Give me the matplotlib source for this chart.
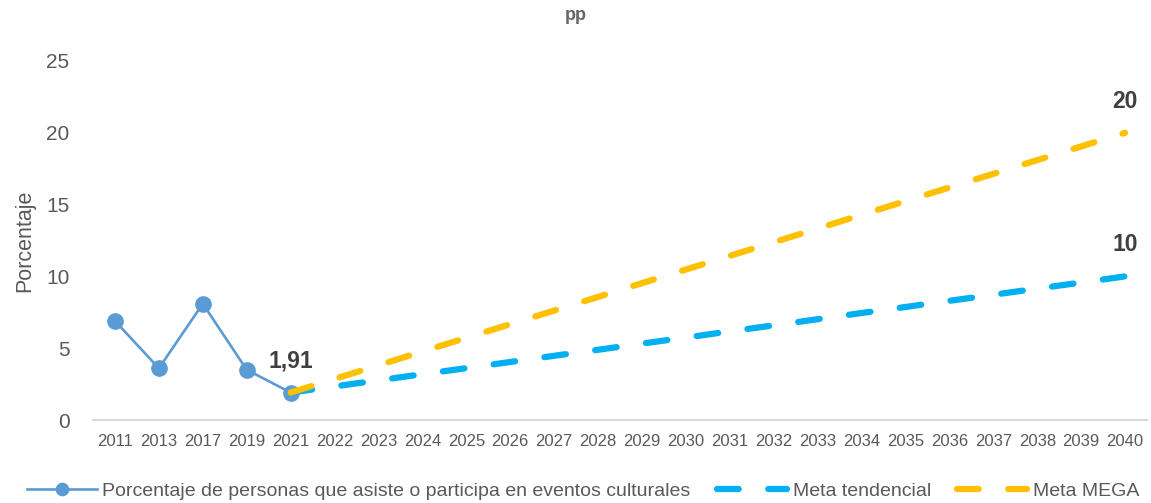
import matplotlib
matplotlib.use("Agg")
import matplotlib.pyplot as plt
import numpy as np

plt.rcParams['font.family'] = ['Liberation Sans', 'DejaVu Sans']

years = ["2011", "2013", "2017", "2019", "2021", "2022", "2023", "2024", "2025", "2026",
         "2027", "2028", "2029", "2030", "2031", "2032", "2033", "2034", "2035", "2036",
         "2037", "2038", "2039", "2040"]

obs_years = ["2011", "2013", "2017", "2019", "2021"]
obs_values = [6.9, 3.6, 8.1, 3.5, 1.91]

goal_years = ["2021", "2022", "2023", "2024", "2025", "2026", "2027", "2028", "2029", "2030",
              "2031", "2032", "2033", "2034", "2035", "2036", "2037", "2038", "2039", "2040"]
tend_values = [1.91, 2.34, 2.76, 3.19, 3.61, 4.04, 4.47, 4.89, 5.32, 5.74,
               6.17, 6.59, 7.02, 7.45, 7.87, 8.30, 8.72, 9.15, 9.57, 10.0]
mega_values = [1.91, 2.86, 3.81, 4.77, 5.72, 6.67, 7.62, 8.57, 9.53, 10.48,
               11.43, 12.38, 13.33, 14.29, 15.24, 16.19, 17.14, 18.10, 19.05, 20.0]

label_obs = "Porcentaje de personas que asiste o participa en eventos culturales"
label_tend = "Meta tendencial"
label_mega = "Meta MEGA"

TXT = "#595959"
C_OBS = "#5B9BD5"
C_TEND = "#00B0F0"
C_MEGA = "#FFC000"

fig = plt.figure(figsize=(11.51, 5.03), dpi=100)
ax = fig.add_axes([93/1151, 1 - 420/503, (1147-93)/1151, (420-61)/503])

pos = {y: i for i, y in enumerate(years)}
xo = [pos[y] for y in obs_years]
xg = [pos[y] for y in goal_years]

DASH = (0, (3.47, 4.73))
ax.plot(xo, obs_values, color=C_OBS, lw=1.9, marker='o', ms=11, zorder=3, label=label_obs)
ax.plot(xg, tend_values, color=C_TEND, lw=4.5, ls=DASH, dash_capstyle='round',
        zorder=4, label=label_tend)
ax.plot(xg, mega_values, color=C_MEGA, lw=4.5, ls=DASH, dash_capstyle='round',
        zorder=5, label=label_mega)

ax.set_xlim(-0.5, len(years) - 0.5)
ax.set_ylim(0, 25)
ax.set_xticks(range(len(years)))
ax.set_xticklabels(years)
ax.set_yticks([0, 5, 10, 15, 20, 25])

for s in ['top', 'right', 'left']:
    ax.spines[s].set_visible(False)
ax.spines['bottom'].set_color('#D9D9D9')
ax.spines['bottom'].set_linewidth(1.5)
ax.tick_params(axis='x', length=0, pad=10, labelsize=12, labelcolor=TXT)
ax.tick_params(axis='y', length=0, pad=17, labelsize=15, labelcolor=TXT)
ax.set_ylabel("Porcentaje", fontsize=15.5, color=TXT, labelpad=8)

ann_style = dict(textcoords='offset points', ha='center', va='baseline',
                 fontsize=16.5, fontweight='bold', color='#404040')
ax.annotate("1,91", (pos["2021"], obs_values[-1]), xytext=(0, 18), **ann_style)
ax.annotate("20", (pos["2040"], mega_values[-1]), xytext=(0, 18), **ann_style)
ax.annotate("10", (pos["2040"], tend_values[-1]), xytext=(0, 18), **ann_style)

fig.text(576/1151, 1 - 15/503, "pp", ha='center', va='center', fontsize=13,
         fontweight='bold', color='#666666')

leg = fig.legend(loc='center', bbox_to_anchor=(583/1151, 1 - 491/503), ncol=3, frameon=False,
                 fontsize=14, handlelength=3.6, columnspacing=1.35, handletextpad=0.3,
                 labelcolor=TXT, borderpad=0.2, markerscale=0.8)

fig.savefig("out.png", dpi=100)
